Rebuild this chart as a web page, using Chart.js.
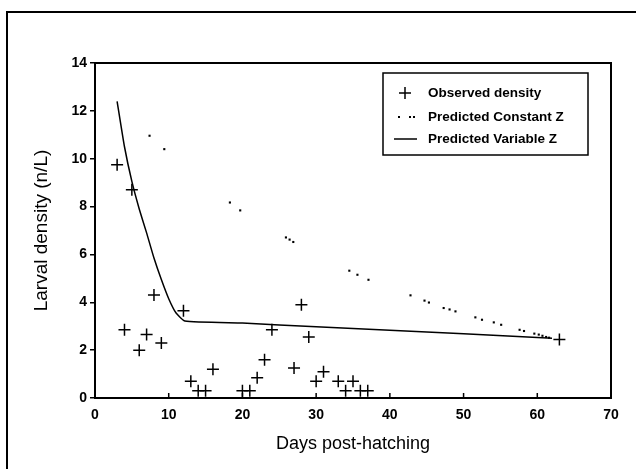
<!DOCTYPE html>
<html>
<head>
<meta charset="utf-8">
<script src="https://cdn.jsdelivr.net/npm/chart.js@4/dist/chart.umd.min.js"></script>
<style>
  html, body { margin: 0; padding: 0; background: #fff; }
  #wrap { width: 636px; height: 469px; position: relative; }
</style>
</head>
<body>
<div id="wrap"><canvas id="c" width="636" height="469"></canvas></div>
<script>
// ---- data ----
const observedDays    = [3, 4, 5, 6, 7, 8, 9, 12, 13, 14, 15, 16, 20, 21, 22, 23, 24, 27, 28, 29, 30, 31, 33, 34, 35, 36, 37, 63];
const observedDensity = [9.75, 2.85, 8.7, 2.0, 2.65, 4.3, 2.3, 3.65, 0.7, 0.3, 0.3, 1.2, 0.3, 0.3, 0.85, 1.6, 2.85, 1.25, 3.9, 2.55, 0.7, 1.1, 0.7, 0.3, 0.7, 0.3, 0.3, 2.45];

// visible dots of the dotted "constant Z" prediction
const constantZDays    = [7.4, 9.4, 18.3, 19.7, 25.9, 26.4, 26.9, 34.5, 35.6, 37.1, 42.8, 44.7, 45.3, 47.3, 48.1, 48.9, 51.6, 52.5, 54.1, 55.1, 57.6, 58.2, 59.6, 60.2, 60.7, 61.2, 61.6];
const constantZDensity = [10.96, 10.4, 8.17, 7.84, 6.71, 6.62, 6.52, 5.32, 5.15, 4.94, 4.29, 4.07, 3.99, 3.76, 3.70, 3.62, 3.37, 3.27, 3.16, 3.06, 2.85, 2.80, 2.69, 2.65, 2.60, 2.55, 2.52];

const variableZDays    = [3, 4, 5, 6, 7, 8, 9, 10, 11, 12.2, 20, 30, 40, 50, 62];
const variableZDensity = [12.4, 10.5, 9.05, 7.9, 6.9, 5.85, 4.95, 4.15, 3.55, 3.22, 3.13, 2.98, 2.83, 2.68, 2.5];

const xTickValues = [0, 10, 20, 30, 40, 50, 60, 70];
const yTickValues = [0, 2, 4, 6, 8, 10, 12, 14];

const legendLabels = ['Observed density', 'Predicted Constant Z', 'Predicted Variable Z'];
const xTitle = 'Days post-hatching';
const yTitle = 'Larval density (n/L)';

const toPoints = (xs, ys) => xs.map((x, i) => ({ x: x, y: ys[i] }));

const FONT = "'Liberation Sans', Arial, Helvetica, sans-serif";

const framePlugin = {
  id: 'frame',
  beforeDraw(chart) {
    const ctx = chart.ctx;
    ctx.save();
    ctx.fillStyle = '#fff';
    ctx.fillRect(0, 0, chart.width, chart.height);
    ctx.strokeStyle = '#000';
    ctx.lineWidth = 2;
    ctx.beginPath();
    ctx.moveTo(7, 469);
    ctx.lineTo(7, 12);
    ctx.lineTo(636, 12);
    ctx.stroke();
    ctx.restore();
  },
  afterDraw(chart) {
    const ctx = chart.ctx;
    const a = chart.chartArea;
    const xs = chart.scales.x;
    ctx.save();
    ctx.strokeStyle = '#000';
    ctx.lineWidth = 2;
    ctx.strokeRect(a.left, a.top, a.right - a.left, a.bottom - a.top);
    // inward x ticks
    ctx.lineWidth = 1.5;
    xTickValues.forEach(v => {
      const px = xs.getPixelForValue(v);
      ctx.beginPath();
      ctx.moveTo(px, a.bottom);
      ctx.lineTo(px, a.bottom - 5);
      ctx.stroke();
    });
    // legend
    const L = 383, T = 73, R = 588, B = 155;
    ctx.fillStyle = '#fff';
    ctx.fillRect(L, T, R - L, B - T);
    ctx.lineWidth = 1.5;
    ctx.strokeRect(L, T, R - L, B - T);
    const rows = [93, 117, 139];
    ctx.lineWidth = 1.5;
    ctx.beginPath();
    ctx.moveTo(399, rows[0]); ctx.lineTo(411, rows[0]);
    ctx.moveTo(405, rows[0] - 6); ctx.lineTo(405, rows[0] + 6);
    ctx.stroke();
    ctx.fillStyle = '#000';
    [398, 409, 413].forEach(x => ctx.fillRect(x, rows[1] - 1, 2, 2));
    ctx.beginPath();
    ctx.moveTo(394, rows[2]); ctx.lineTo(417, rows[2]);
    ctx.stroke();
    ctx.font = 'bold 13.5px ' + FONT;
    ctx.textBaseline = 'middle';
    ctx.textAlign = 'left';
    legendLabels.forEach((t, i) => ctx.fillText(t, 428, rows[i]));
    ctx.restore();
  }
};

new Chart(document.getElementById('c'), {
  type: 'scatter',
  data: {
    datasets: [
      {
        label: legendLabels[0],
        data: toPoints(observedDays, observedDensity),
        pointStyle: 'cross',
        pointRadius: 6,
        pointBorderWidth: 1.5,
        borderColor: '#000',
        backgroundColor: '#000',
        showLine: false,
        order: 1
      },
      {
        label: legendLabels[1],
        data: toPoints(constantZDays, constantZDensity),
        showLine: false,
        pointStyle: 'rect',
        pointRadius: 1.5,
        pointBorderWidth: 0,
        borderColor: '#000',
        backgroundColor: '#000',
        order: 2
      },
      {
        label: legendLabels[2],
        data: toPoints(variableZDays, variableZDensity),
        showLine: true,
        borderColor: '#000',
        borderWidth: 1.5,
        pointRadius: 0,
        tension: 0.15,
        fill: false,
        order: 3
      }
    ]
  },
  options: {
    responsive: false,
    animation: false,
    devicePixelRatio: 1,
    layout: { padding: { top: 63, right: 25, left: 0, bottom: 0 } },
    plugins: { legend: { display: false }, tooltip: { enabled: false } },
    scales: {
      x: {
        type: 'linear',
        min: 0, max: 70,
        afterFit(s) { s.height = 71; },
        afterBuildTicks(s) { s.ticks = xTickValues.map(v => ({ value: v })); },
        ticks: { color: '#000', font: { family: FONT, size: 14, weight: 'bold' }, padding: 9 },
        grid: { drawOnChartArea: false, drawTicks: false },
        border: { display: true, color: '#000', width: 2 },
        title: { display: true, text: xTitle, color: '#000', font: { family: FONT, size: 18 }, padding: { top: 0, bottom: 14 } }
      },
      y: {
        type: 'linear',
        min: 0, max: 14,
        afterFit(s) { s.width = 95; },
        afterBuildTicks(s) { s.ticks = yTickValues.map(v => ({ value: v })); },
        ticks: { color: '#000', font: { family: FONT, size: 14, weight: 'bold' }, padding: 3 },
        grid: { drawOnChartArea: false, drawTicks: true, tickLength: 5, color: '#000', lineWidth: 1.5 },
        border: { display: true, color: '#000', width: 2 },
        title: { display: true, text: yTitle, color: '#000', font: { family: FONT, size: 19 }, padding: { top: 30, bottom: 0 } }
      }
    }
  },
  plugins: [framePlugin]
});
</script>
</body>
</html>
